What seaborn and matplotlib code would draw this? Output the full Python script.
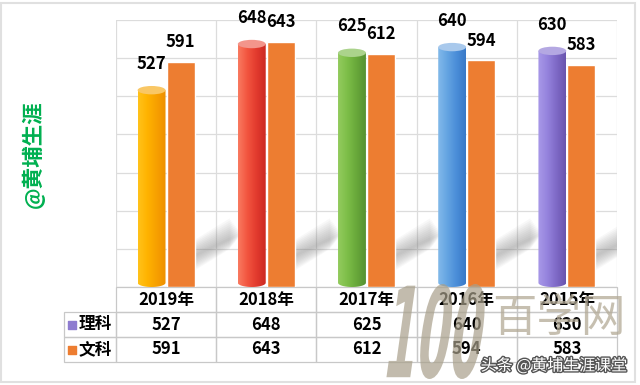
import numpy as np
import pandas as pd
import seaborn as sns
import matplotlib.pyplot as plt
import matplotlib.patches as mpatches
import matplotlib.patheffects as pe
from matplotlib.colors import LinearSegmentedColormap
from matplotlib.textpath import TextPath
from matplotlib.font_manager import FontProperties
from matplotlib.transforms import Affine2D

# data
years = ['2019年', '2018年', '2017年', '2016年', '2015年']
series = ['理科', '文科']
li_ke = [527, 648, 625, 640, 630]
wen_ke = [591, 643, 612, 594, 583]

# 理科 cylinders: gradient left -> right, and the lighter top cap
cyl_colors = [
    ['#FFC21A', '#FFB300', '#F7A000', '#EE9000'],
    ['#F97A60', '#F2553F', '#E23A2E', '#CC2A22'],
    ['#93CB5E', '#7DBE48', '#68A83A', '#569232'],
    ['#82B9EA', '#64A4E2', '#4A8DD8', '#3A7AC8'],
    ['#A899E8', '#9583DD', '#7E69C6', '#6A55AE'],
]
cap_colors = ['#F9C765', '#F3958B', '#ABD38C', '#A9C9EC', '#B4A8E2']
wen_color = '#ED7D31'
li_legend = '#8E7CD0'
grid_c = '#dcdcdc'

sns.set_theme(style='white')
plt.rcParams['font.family'] = ['Noto Sans CJK SC', 'DejaVu Sans']

df = pd.DataFrame({'year': years * 2,
                   'score': li_ke + wen_ke,
                   'subject': ['理科'] * 5 + ['文科'] * 5})

fig = plt.figure(figsize=(6.4, 3.85), dpi=100)
fig.patch.set_facecolor('white')
ax = fig.add_axes([116 / 640, 1 - 287 / 385, 501 / 640, 267 / 385])

sns.barplot(data=df, x='year', y='score', hue='subject',
            palette=[li_legend, wen_color], width=0.58, gap=0.04,
            saturation=1, legend=False, ax=ax, zorder=3)
bars = list(ax.patches)

# soft diagonal shadows behind each 文科 bar
for p in bars[5:10]:
    x1 = p.get_x() + p.get_width()
    for k in range(10):
        half = 4 + k * 4
        L = 0.46 - k * 0.012
        poly = mpatches.Polygon([(x1 - 0.02, 80 - half), (x1 + L, 140 - half),
                                 (x1 + L, 140 + half), (x1 - 0.02, 80 + half)],
                                closed=True, facecolor='#7a7a7a', edgecolor='none',
                                alpha=0.05, zorder=2)
        ax.add_patch(poly)

# turn the 理科 bars into shaded cylinders
eh = 22
for i, p in enumerate(bars[:5]):
    x0, w, h = p.get_x(), p.get_width(), p.get_height()
    p.set_visible(False)
    t = np.linspace(np.pi, 2 * np.pi, 40)
    arc = list(zip(x0 + w / 2 + w / 2 * np.cos(t), eh / 2 + eh / 2 * np.sin(t)))
    verts = [(x0, h - eh / 2)] + arc + [(x0 + w, h - eh / 2)]
    body = mpatches.Polygon(verts, closed=True, facecolor='none', edgecolor='none')
    ax.add_patch(body)
    cmap = LinearSegmentedColormap.from_list('cyl%d' % i, cyl_colors[i])
    im = ax.imshow(np.linspace(0, 1, 64).reshape(1, -1), cmap=cmap,
                   extent=[x0, x0 + w, 0, h], aspect='auto',
                   interpolation='bilinear', zorder=3)
    im.set_clip_path(body)
    ax.add_patch(mpatches.Ellipse((x0 + w / 2, h - eh / 2), w, eh,
                                  facecolor=cap_colors[i], edgecolor='none', zorder=4))

# value labels (cylinder labels sit a little higher)
for j, (p, v) in enumerate(zip(bars, li_ke + wen_ke)):
    ax.annotate(str(v), (p.get_x() + p.get_width() / 2, v),
                xytext=(0, 9.5 if j < 5 else 7.5),
                textcoords='offset points', ha='center', va='bottom',
                fontsize=12, fontweight='bold', color='black', zorder=6)

ax.set_xlim(-0.5, 4.5)
ax.set_ylim(0, 700)
ax.set_yticks(range(0, 701, 100))
ax.set_xticks(np.arange(-0.5, 5, 1), minor=True)
ax.yaxis.grid(True, color=grid_c, lw=0.9)
ax.xaxis.grid(True, which='minor', color=grid_c, lw=0.9)
ax.set_axisbelow(True)
ax.tick_params(which='both', length=0, labelleft=False, labelbottom=False)
ax.set_xlabel('')
ax.set_ylabel('')
for s in ax.spines.values():
    s.set_visible(False)

# data table under the plot, in axes fractions
row_h = 25 / 267
lab_w = 52 / 501
col_w = 1 / len(years)
tcol = '#c8c8c8'
rows = [years, [str(v) for v in li_ke], [str(v) for v in wen_ke]]
for r, vals in enumerate(rows):
    y0 = -(r + 1) * row_h
    for c, txt in enumerate(vals):
        ax.add_patch(mpatches.Rectangle((c * col_w, y0), col_w, row_h,
                                        transform=ax.transAxes, fill=False,
                                        edgecolor=tcol, lw=0.9, clip_on=False))
        ax.text((c + 0.5) * col_w, y0 + row_h / 2, txt, transform=ax.transAxes,
                ha='center', va='center', fontsize=12, fontweight='bold',
                color='black')
    if r > 0:
        ax.add_patch(mpatches.Rectangle((-lab_w, y0), lab_w, row_h,
                                        transform=ax.transAxes, fill=False,
                                        edgecolor=tcol, lw=0.9, clip_on=False))
        ax.scatter([-44 / 501], [y0 + row_h / 2], transform=ax.transAxes,
                   marker='s', s=26, c=[[li_legend, wen_color][r - 1]],
                   clip_on=False, zorder=7)
        ax.text(-37 / 501, y0 + row_h / 2, series[r - 1], transform=ax.transAxes,
                ha='left', va='center', fontsize=12, fontweight='bold',
                color='black')

# side caption
fig.text(33 / 640, 1 - 154 / 385, '@黄埔生涯', rotation=90, color='#00B050',
         fontsize=15.5, fontweight='bold', ha='center', va='center')

# watermarks
tp = TextPath((0, 0), '100', size=1, prop=FontProperties(family='DejaVu Sans', weight='bold'))
ext = tp.get_extents()
sx = 90 / ext.width
sy = 95 / ext.height
tr = Affine2D().translate(-ext.x0, -ext.y0).scale(sx, sy).skew_deg(8, 0).translate(386, 6)
fig.add_artist(mpatches.PathPatch(tp, transform=tr, facecolor='#a89f8a',
                                  edgecolor='none', alpha=0.7, zorder=8))
fig.text(559 / 640, 1 - 318 / 385, '百学网', fontsize=32, color='#b3aa96',
         alpha=0.75, fontweight='light', ha='center', va='center', zorder=8)
fig.text(554 / 640, 1 - 366 / 385, '头条 @黄埔生涯课堂', fontsize=11.5, color='white',
         ha='center', va='center', zorder=9,
         path_effects=[pe.withStroke(linewidth=2, foreground='#555555')])

# light outer frame
fig.add_artist(mpatches.Rectangle((1 / 640, 3 / 385), 634 / 640, 379 / 385,
                                  transform=fig.transFigure, fill=False,
                                  edgecolor='#e0e0e0', lw=1.5))

fig.savefig('out.png', dpi=100)
